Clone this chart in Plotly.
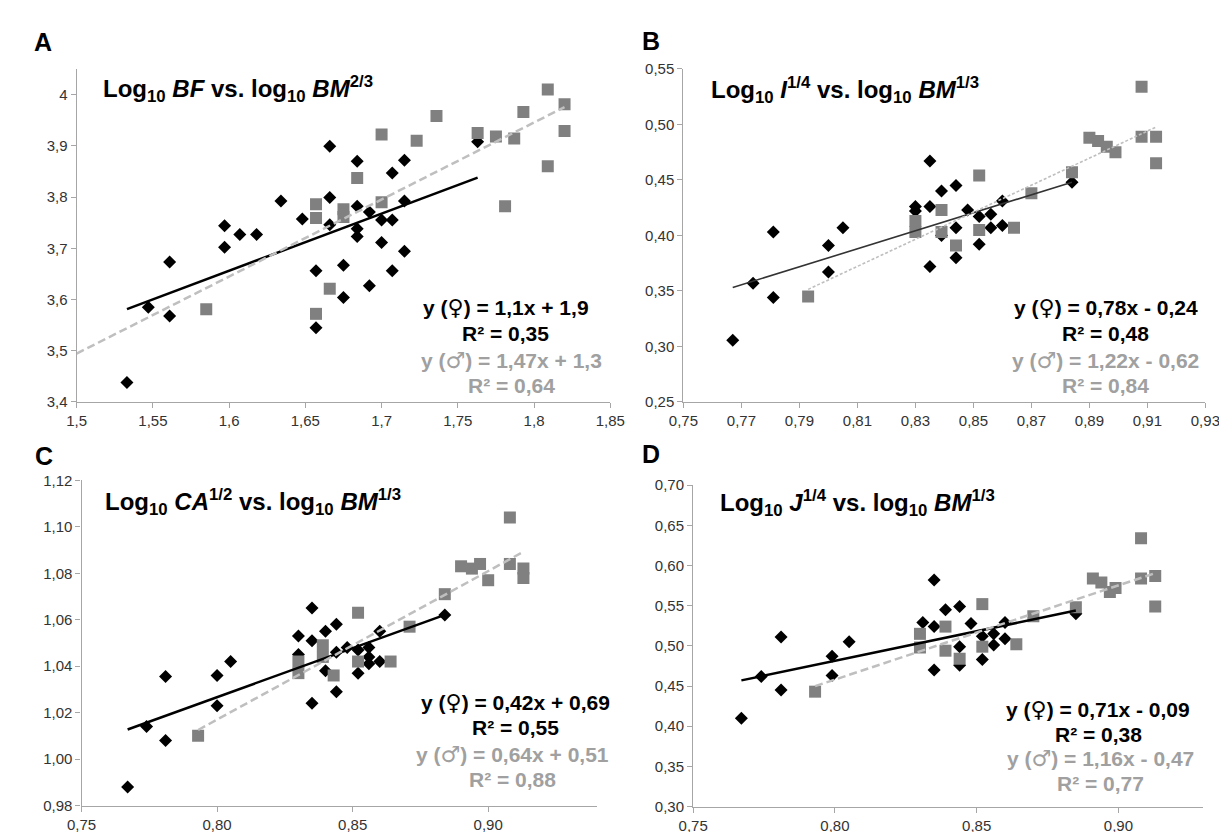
import numpy as np
import plotly.graph_objects as go

W, H = 1227, 832

# ---------------- Panel A: Log10 BF vs log10 BM^(2/3) ----------------
a_f_x = [1.533, 1.547, 1.561, 1.561, 1.597, 1.597, 1.607, 1.618, 1.634, 1.648, 1.657, 1.657,
         1.666, 1.666, 1.666, 1.675, 1.675, 1.684, 1.684, 1.684, 1.684, 1.692, 1.692, 1.700,
         1.700, 1.707, 1.707, 1.707, 1.715, 1.715, 1.715, 1.763]
a_f_y = [3.438, 3.585, 3.568, 3.673, 3.744, 3.702, 3.727, 3.727, 3.792, 3.757, 3.656, 3.545,
         3.899, 3.799, 3.746, 3.667, 3.604, 3.870, 3.782, 3.738, 3.723, 3.771, 3.627, 3.755,
         3.711, 3.847, 3.755, 3.656, 3.872, 3.792, 3.694, 3.908]
a_m_x = [1.585, 1.657, 1.657, 1.657, 1.666, 1.675, 1.675, 1.684, 1.700, 1.700, 1.723, 1.736,
         1.763, 1.775, 1.781, 1.787, 1.793, 1.809, 1.809, 1.820, 1.820]
a_m_y = [3.581, 3.786, 3.759, 3.572, 3.621, 3.776, 3.761, 3.837, 3.922, 3.790, 3.910, 3.958,
         3.925, 3.918, 3.782, 3.914, 3.966, 4.010, 3.860, 3.981, 3.929]
a_xticks = [1.5, 1.55, 1.6, 1.65, 1.7, 1.75, 1.8, 1.85]
a_xtext = ["1,5", "1,55", "1,6", "1,65", "1,7", "1,75", "1,8", "1,85"]
a_yticks = [3.4, 3.5, 3.6, 3.7, 3.8, 3.9, 4.0]
a_ytext = ["3,4", "3,5", "3,6", "3,7", "3,8", "3,9", "4"]
a_eq = ["y (♀) = 1,1x + 1,9", "R² = 0,35", "y (♂) = 1,47x + 1,3", "R² = 0,64"]
a_title = "Log<sub>10</sub> <i>BF</i> vs. log<sub>10</sub> <i>BM</i><sup>2/3</sup>"

# ---------------- Panel B: Log10 I^(1/4) vs log10 BM^(1/3) ----------------
b_f_x = [0.767, 0.774, 0.781, 0.781, 0.800, 0.800, 0.805, 0.830, 0.830, 0.835, 0.835, 0.835,
         0.839, 0.839, 0.844, 0.844, 0.844, 0.848, 0.852, 0.852, 0.856, 0.856, 0.860, 0.860, 0.884]
b_f_y = [0.3055, 0.357, 0.403, 0.344, 0.391, 0.367, 0.407, 0.426, 0.422, 0.467, 0.426, 0.372,
         0.440, 0.400, 0.445, 0.407, 0.380, 0.423, 0.417, 0.392, 0.419, 0.407, 0.431, 0.409, 0.448]
b_m_x = [0.793, 0.830, 0.830, 0.839, 0.839, 0.844, 0.852, 0.852, 0.864, 0.870, 0.884, 0.890,
         0.893, 0.896, 0.899, 0.908, 0.908, 0.913, 0.913]
b_m_y = [0.345, 0.413, 0.403, 0.423, 0.403, 0.391, 0.454, 0.405, 0.407, 0.438, 0.457, 0.488,
         0.485, 0.480, 0.475, 0.534, 0.489, 0.489, 0.465]
b_xticks = [0.75, 0.77, 0.79, 0.81, 0.83, 0.85, 0.87, 0.89, 0.91, 0.93]
b_xtext = ["0,75", "0,77", "0,79", "0,81", "0,83", "0,85", "0,87", "0,89", "0,91", "0,93"]
b_yticks = [0.25, 0.30, 0.35, 0.40, 0.45, 0.50, 0.55]
b_ytext = ["0,25", "0,30", "0,35", "0,40", "0,45", "0,50", "0,55"]
b_eq = ["y (♀) = 0,78x - 0,24", "R² = 0,48", "y (♂) = 1,22x - 0,62", "R² = 0,84"]
b_title = "Log<sub>10</sub> <i>I</i><sup>1/4</sup> vs. log<sub>10</sub> <i>BM</i><sup>1/3</sup>"

# ---------------- Panel C: Log10 CA^(1/2) vs log10 BM^(1/3) ----------------
c_f_x = [0.767, 0.774, 0.781, 0.781, 0.800, 0.800, 0.805, 0.830, 0.830, 0.835, 0.835, 0.835,
         0.840, 0.840, 0.844, 0.844, 0.844, 0.848, 0.852, 0.852, 0.856, 0.856, 0.856, 0.860,
         0.860, 0.884]
c_f_y = [0.988, 1.014, 1.0356, 1.008, 1.036, 1.023, 1.042, 1.053, 1.045, 1.065, 1.051, 1.024,
         1.055, 1.038, 1.058, 1.046, 1.029, 1.048, 1.047, 1.037, 1.048, 1.044, 1.041, 1.042,
         1.055, 1.062]
c_m_x = [0.793, 0.830, 0.830, 0.839, 0.839, 0.843, 0.852, 0.852, 0.864, 0.871, 0.884, 0.890,
         0.894, 0.897, 0.900, 0.908, 0.908, 0.913, 0.913]
c_m_y = [1.010, 1.042, 1.037, 1.049, 1.044, 1.036, 1.063, 1.042, 1.042, 1.057, 1.071, 1.083,
         1.082, 1.084, 1.077, 1.104, 1.084, 1.082, 1.078]
c_xticks = [0.75, 0.80, 0.85, 0.90]
c_xtext = ["0,75", "0,80", "0,85", "0,90"]
c_yticks = [0.98, 1.00, 1.02, 1.04, 1.06, 1.08, 1.10, 1.12]
c_ytext = ["0,98", "1,00", "1,02", "1,04", "1,06", "1,08", "1,10", "1,12"]
c_eq = ["y (♀) = 0,42x + 0,69", "R² = 0,55", "y (♂) = 0,64x + 0,51", "R² = 0,88"]
c_title = "Log<sub>10</sub> <i>CA</i><sup>1/2</sup> vs. log<sub>10</sub> <i>BM</i><sup>1/3</sup>"

# ---------------- Panel D: Log10 J^(1/4) vs log10 BM^(1/3) ----------------
d_f_x = [0.767, 0.774, 0.781, 0.781, 0.799, 0.799, 0.805, 0.831, 0.835, 0.835, 0.835, 0.839,
         0.844, 0.844, 0.844, 0.848, 0.852, 0.852, 0.856, 0.856, 0.860, 0.860, 0.885]
d_f_y = [0.410, 0.462, 0.511, 0.445, 0.487, 0.463, 0.505, 0.529, 0.582, 0.524, 0.470, 0.545,
         0.549, 0.499, 0.476, 0.528, 0.512, 0.483, 0.515, 0.501, 0.529, 0.509, 0.540]
d_m_x = [0.793, 0.830, 0.830, 0.839, 0.839, 0.844, 0.852, 0.852, 0.864, 0.870, 0.885, 0.891,
         0.894, 0.897, 0.899, 0.908, 0.908, 0.913, 0.913]
d_m_y = [0.443, 0.515, 0.498, 0.524, 0.494, 0.484, 0.552, 0.499, 0.502, 0.537, 0.548, 0.584,
         0.579, 0.567, 0.572, 0.634, 0.584, 0.587, 0.549]
d_xticks = [0.75, 0.80, 0.85, 0.90]
d_xtext = ["0,75", "0,80", "0,85", "0,90"]
d_yticks = [0.30, 0.35, 0.40, 0.45, 0.50, 0.55, 0.60, 0.65, 0.70]
d_ytext = ["0,30", "0,35", "0,40", "0,45", "0,50", "0,55", "0,60", "0,65", "0,70"]
d_eq = ["y (♀) = 0,71x - 0,09", "R² = 0,38", "y (♂) = 1,16x - 0,47", "R² = 0,77"]
d_title = "Log<sub>10</sub> <i>J</i><sup>1/4</sup> vs. log<sub>10</sub> <i>BM</i><sup>1/3</sup>"

panel_letters = ["A", "B", "C", "D"]


def px(p):
    return p / W


def py(p):
    return 1 - p / H


FONT = "Liberation Sans, Arial, sans-serif"
AXC = "#a6a6a6"
TXT = "#333333"
MALE_LINE = "#bfbfbf"
MALE_TXT = "#a0a0a0"
SYM_STYLE = "font-family:'DejaVu Sans';font-weight:normal;font-size:22px"


def fmt_eq(txt):
    for s in ("♀", "♂"):
        txt = txt.replace(s, '<span style="%s">%s</span>' % (SYM_STYLE, s))
    return "<b>" + txt + "</b>"


panels = [
    dict(fx=a_f_x, fy=a_f_y, mx=a_m_x, my=a_m_y, xt=a_xticks, xl=a_xtext, yt=a_yticks, yl=a_ytext,
         xr=[1.5, 1.85], yr=[3.4, 4.05], box=(55, 602, 53, 393), eq=a_eq, title=a_title,
         tpos=(80, 74), epos=(495, 501, [297, 323, 351, 376]), letter=(21, 26),
         fstyle=dict(color="black", width=2.5), mstyle=dict(color=MALE_LINE, width=2.5, dash="8px,4px"),
         backcast=True),
    dict(fx=b_f_x, fy=b_f_y, mx=b_m_x, my=b_m_y, xt=b_xticks, xl=b_xtext, yt=b_yticks, yl=b_ytext,
         xr=[0.75, 0.93], yr=[0.25, 0.55], box=(677, 1212, 53, 393), eq=b_eq, title=b_title,
         tpos=(703, 75), epos=(1110, 1110, [297, 323, 351, 376]), letter=(644, 25),
         fstyle=dict(color="#333333", width=1.6), mstyle=dict(color=MALE_LINE, width=1.6, dash="3px,2px"),
         backcast=False),
    dict(fx=c_f_x, fy=c_f_y, mx=c_m_x, my=c_m_y, xt=c_xticks, xl=c_xtext, yt=c_yticks, yl=c_ytext,
         xr=[0.75, 0.94], yr=[0.98, 1.12], box=(60, 588, 473, 805), eq=c_eq, title=c_title,
         tpos=(82, 495), epos=(505, 502, [700, 725, 753, 778]), letter=(22, 448),
         fstyle=dict(color="black", width=2.5), mstyle=dict(color=MALE_LINE, width=2.5, dash="8px,4px"),
         backcast=False),
    dict(fx=d_f_x, fy=d_f_y, mx=d_m_x, my=d_m_y, xt=d_xticks, xl=d_xtext, yt=d_yticks, yl=d_ytext,
         xr=[0.75, 0.93], yr=[0.30, 0.70], box=(687, 1210, 478, 806), eq=d_eq, title=d_title,
         tpos=(712, 496), epos=(1102, 1104, [707, 732, 757, 782]), letter=(644, 446),
         fstyle=dict(color="black", width=2.5), mstyle=dict(color=MALE_LINE, width=2.5, dash="8px,4px"),
         backcast=False),
]

fig = go.Figure()
annotations = []
layout = {}

for i, p in enumerate(panels, start=1):
    sfx = "" if i == 1 else str(i)
    xa, ya = "x" + sfx, "y" + sfx
    x0, x1, y0, y1 = p["box"]
    layout["xaxis" + sfx] = dict(
        domain=[px(x0), px(x1)], range=p["xr"], anchor=ya, tickmode="array",
        tickvals=p["xt"], ticktext=p["xl"], showline=True, linecolor=AXC, linewidth=1.3,
        ticks="outside", ticklen=5, tickcolor=AXC, tickwidth=1.3, showgrid=False, zeroline=False,
        tickfont=dict(family=FONT, size=15, color=TXT), fixedrange=True)
    layout["yaxis" + sfx] = dict(
        domain=[py(y1), py(y0)], range=p["yr"], anchor=xa, tickmode="array",
        tickvals=p["yt"], ticktext=p["yl"], showline=True, linecolor=AXC, linewidth=1.3,
        ticks="outside", ticklen=5, tickcolor=AXC, tickwidth=1.3, showgrid=False, zeroline=False,
        tickfont=dict(family=FONT, size=15, color=TXT), fixedrange=True)

    fx, fy = np.array(p["fx"]), np.array(p["fy"])
    mx, my = np.array(p["mx"]), np.array(p["my"])

    fig.add_trace(go.Scatter(x=fx, y=fy, mode="markers", xaxis=xa, yaxis=ya, showlegend=False,
                             marker=dict(symbol="diamond", size=10, color="black", line=dict(width=0))))
    fig.add_trace(go.Scatter(x=mx, y=my, mode="markers", xaxis=xa, yaxis=ya, showlegend=False,
                             marker=dict(symbol="square", size=12, color="#808080", line=dict(width=0))))

    # least-squares trendlines from the data
    kf = np.polyfit(fx, fy, 1)
    km = np.polyfit(mx, my, 1)
    fxl = np.array([fx.min(), fx.max()])
    mxl = np.array([p["xr"][0] if p["backcast"] else mx.min(), mx.max()])
    fig.add_trace(go.Scatter(x=fxl, y=np.polyval(kf, fxl), mode="lines", xaxis=xa, yaxis=ya,
                             showlegend=False, line=p["fstyle"]))
    fig.add_trace(go.Scatter(x=mxl, y=np.polyval(km, mxl), mode="lines", xaxis=xa, yaxis=ya,
                             showlegend=False, line=p["mstyle"]))

    # title
    tx, ty = p["tpos"]
    annotations.append(dict(text="<b>" + p["title"] + "</b>", x=px(tx), y=py(ty), xref="paper",
                            yref="paper", xanchor="left", yanchor="middle", showarrow=False,
                            font=dict(family=FONT, size=24, color="black")))
    # panel letter
    lx, ly = p["letter"]
    annotations.append(dict(text="<b>" + panel_letters[i - 1] + "</b>", x=px(lx), y=py(ly),
                            xref="paper", yref="paper", xanchor="center", yanchor="middle",
                            showarrow=False, font=dict(family=FONT, size=25, color="black")))
    # equations
    cf, cm, ys = p["epos"]
    for k, txt in enumerate(p["eq"]):
        col = "black" if k < 2 else MALE_TXT
        cx = cf if k < 2 else cm
        annotations.append(dict(text=fmt_eq(txt), x=px(cx), y=py(ys[k]), xref="paper",
                                yref="paper", xanchor="center", yanchor="middle", showarrow=False,
                                font=dict(family=FONT, size=21, color=col)))

fig.update_layout(
    width=W, height=H, autosize=False, margin=dict(l=0, r=0, t=0, b=0),
    paper_bgcolor="white", plot_bgcolor="white", annotations=annotations, **layout)

fig.write_html("out.html")
